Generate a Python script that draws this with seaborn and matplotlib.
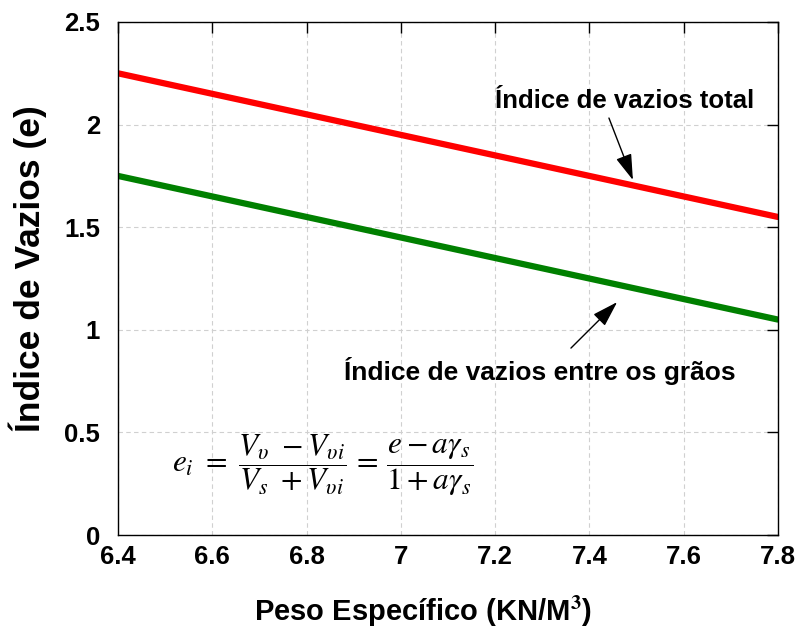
import matplotlib
matplotlib.use("Agg")
import matplotlib.pyplot as plt
import seaborn as sns
import pandas as pd

# Data
peso = [6.4, 7.8]
e_total = [2.25, 1.55]
e_graos = [1.75, 1.05]
x_ticks = [6.4, 6.6, 6.8, 7.0, 7.2, 7.4, 7.6, 7.8]
x_labels = ["6.4", "6.6", "6.8", "7", "7.2", "7.4", "7.6", "7.8"]
y_ticks = [0, 0.5, 1, 1.5, 2, 2.5]
y_labels = ["0", "0.5", "1", "1.5", "2", "2.5"]

sns.set_theme(style="white")
plt.rcParams['font.family'] = ['Liberation Sans', 'DejaVu Sans']
plt.rcParams['mathtext.fontset'] = 'stix'
plt.rcParams['text.color'] = 'black'
plt.rcParams['axes.labelcolor'] = 'black'
plt.rcParams['xtick.color'] = 'black'
plt.rcParams['ytick.color'] = 'black'

df = pd.DataFrame({
    "x": peso + peso,
    "y": e_total + e_graos,
    "serie": ["total"] * len(peso) + ["graos"] * len(peso),
})

fig = plt.figure(figsize=(7.97, 6.28), dpi=100)
ax = fig.add_axes([0.148, 0.148, 0.828, 0.817])

sns.lineplot(data=df, x="x", y="y", hue="serie",
             palette={"total": "#ff0000", "graos": "#008000"},
             linewidth=4.5, legend=False, ax=ax)

ax.set_xlim(6.4, 7.8)
ax.set_ylim(0, 2.5)
ax.set_xticks(x_ticks)
ax.set_xticklabels(x_labels)
ax.set_yticks(y_ticks)
ax.set_yticklabels(y_labels)
ax.grid(True, linestyle=(0, (4, 3)), color="#d0d0d0", linewidth=0.8)
for s in ax.spines.values():
    s.set_color("black")
    s.set_linewidth(1.0)
ax.tick_params(direction="in", length=8, width=1, top=True, right=True,
               labelsize=18.5, colors="black")
ax.tick_params(axis="x", pad=7)
ax.tick_params(axis="y", pad=13)
for lab in ax.get_xticklabels() + ax.get_yticklabels():
    lab.set_fontweight("bold")
    lab.set_color("black")

ax.set_xlabel("Peso Específico (KN/M$^{\\mathbf{3}}$)", fontsize=21,
              fontweight="bold", color="black")
ax.set_ylabel("Índice de Vazios (e)", fontsize=25.5, fontweight="bold",
              color="black")
ax.xaxis.set_label_coords(0.462, -0.116)
ax.yaxis.set_label_coords(-0.108, 0.52)

arrow = dict(arrowstyle="-|>,head_length=1.6,head_width=0.5",
             color="black", lw=1, shrinkA=0, shrinkB=0, mutation_scale=10)
ax.text(7.4755, 2.081, "Índice de vazios total", ha="center", va="baseline",
        fontsize=18.5, fontweight="bold", color="black")
ax.annotate("", xy=(7.4925, 1.730), xytext=(7.4416, 2.032), arrowprops=arrow)
ax.text(7.295, 0.755, "Índice de vazios entre os grãos", ha="center",
        va="baseline", fontsize=19, fontweight="bold", color="black")
ax.annotate("", xy=(7.459, 1.135), xytext=(7.361, 0.911), arrowprops=arrow)

ax.text(6.833, 0.34,
        r"$e_i\ =\ \dfrac{V_\upsilon\ -V_{\upsilon i}}{V_s\ +V_{\upsilon i}}\,=\,\dfrac{e-a\gamma_s}{1+a\gamma_s}$",
        ha="center", va="center", fontsize=22.5, color="black")

fig.savefig("out.png", dpi=100)
